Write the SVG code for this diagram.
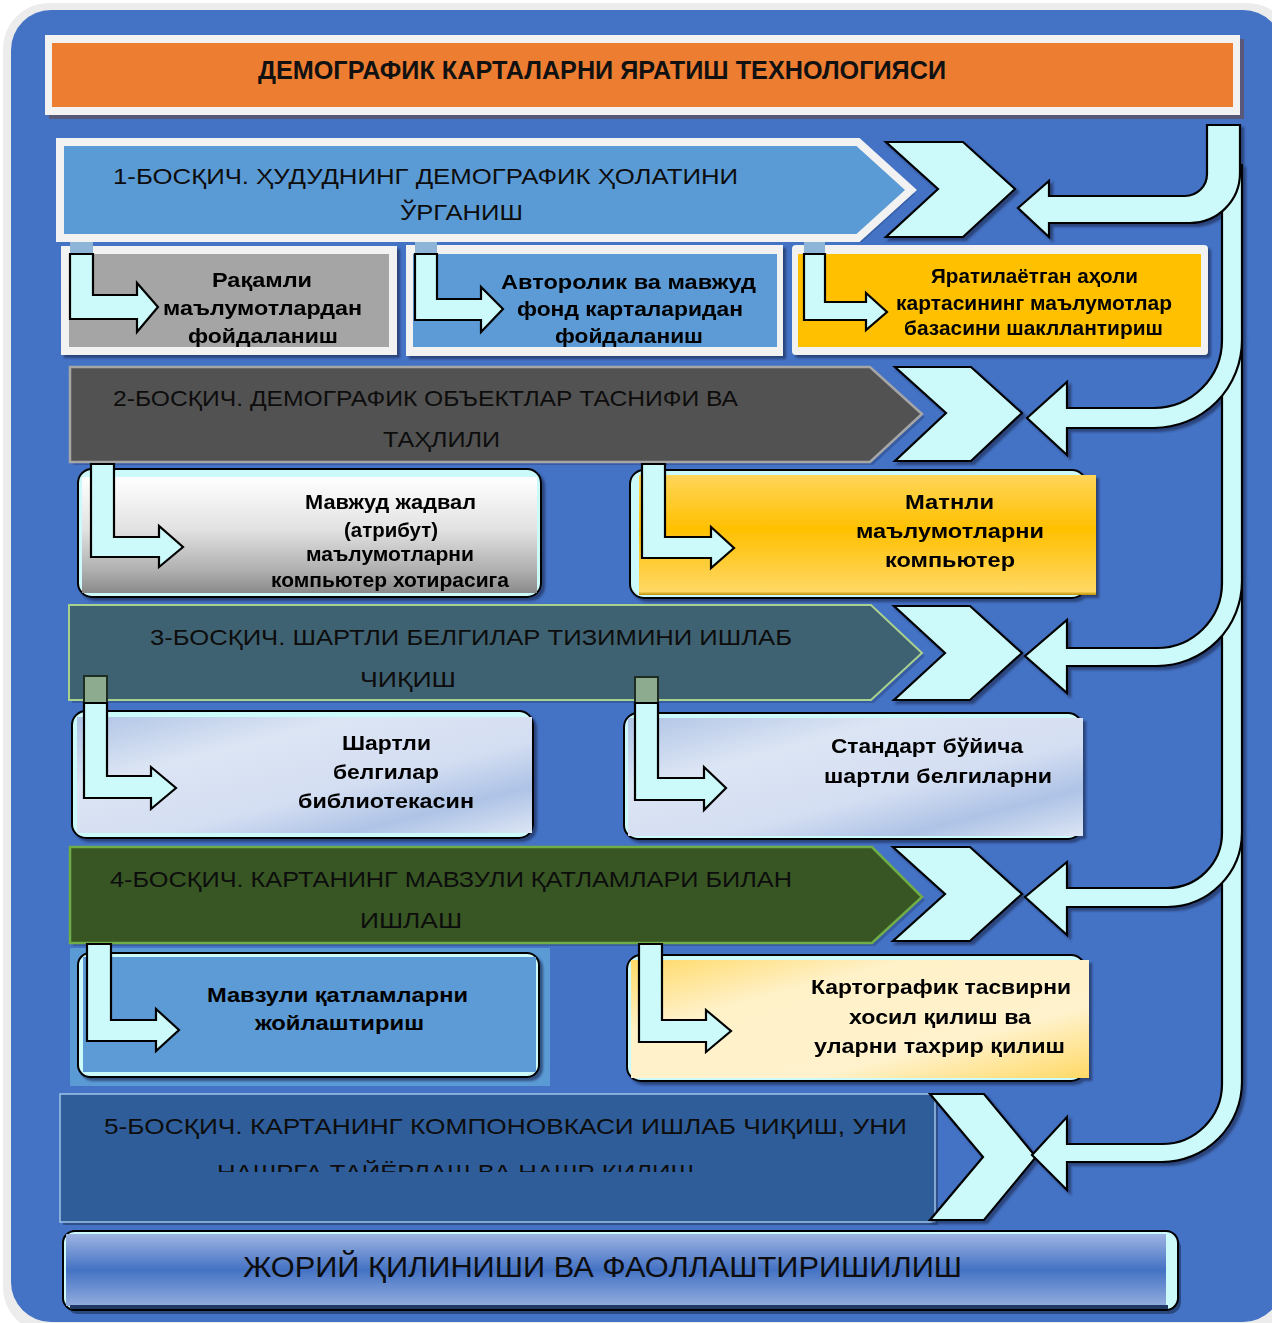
<svg xmlns="http://www.w3.org/2000/svg" width="1272" height="1323" viewBox="0 0 1272 1323">
<style>
  .st { font-family: "Liberation Sans", Arial, sans-serif; font-size: 22px; fill: #0d0d0d; }
  .bx { font-family: "Liberation Sans", Arial, sans-serif; font-size: 21px; font-weight: bold; fill: #000; }
  .cy { fill: #CCFAFA; stroke: #000; stroke-width: 2.2; stroke-linejoin: miter; }
  .ol { fill: #CCFAFA; stroke: #000; stroke-width: 2; }
</style>
<defs>
  <filter id="sh" x="-10%" y="-10%" width="130%" height="130%">
    <feDropShadow dx="3" dy="3" stdDeviation="1.2" flood-color="#1a2a55" flood-opacity="0.65"/>
  </filter>
  <linearGradient id="gGray" x1="0" y1="0" x2="0" y2="1">
    <stop offset="0" stop-color="#ffffff"/>
    <stop offset="0.45" stop-color="#e2e2e2"/>
    <stop offset="0.8" stop-color="#b0b0b0"/>
    <stop offset="1" stop-color="#8a8a8a"/>
  </linearGradient>
  <linearGradient id="gOrange" x1="0" y1="0" x2="0" y2="1">
    <stop offset="0" stop-color="#FFD55A"/>
    <stop offset="0.45" stop-color="#FFC000"/>
    <stop offset="0.85" stop-color="#FFD24D"/>
    <stop offset="0.97" stop-color="#FFD966"/>
    <stop offset="1" stop-color="#BF8F00"/>
  </linearGradient>
  <linearGradient id="gBlue" x1="0" y1="0" x2="1" y2="1">
    <stop offset="0" stop-color="#AFC4E6"/>
    <stop offset="0.3" stop-color="#DCE5F4"/>
    <stop offset="0.6" stop-color="#D4DEF2"/>
    <stop offset="0.8" stop-color="#AEC3E6"/>
    <stop offset="1" stop-color="#DCE5F4"/>
  </linearGradient>
  <linearGradient id="gYel" x1="0" y1="0" x2="1" y2="1">
    <stop offset="0" stop-color="#FFD966"/>
    <stop offset="0.3" stop-color="#FFF1C8"/>
    <stop offset="0.7" stop-color="#FFF2CC"/>
    <stop offset="1" stop-color="#FFD966"/>
  </linearGradient>
  <linearGradient id="gBar" x1="0" y1="0" x2="0" y2="1">
    <stop offset="0" stop-color="#9DB4E2"/>
    <stop offset="0.5" stop-color="#4472C4"/>
    <stop offset="1" stop-color="#93ADDE"/>
  </linearGradient>
  <clipPath id="cA"><rect x="60" y="240" width="340" height="107"/></clipPath>
  <clipPath id="cB"><rect x="400" y="240" width="390" height="107"/></clipPath>
  <clipPath id="cD"><rect x="70" y="470" width="480" height="123"/></clipPath>
  <clipPath id="c5"><rect x="60" y="1094" width="880" height="78"/></clipPath>
</defs>

<!-- background -->
<rect x="0" y="0" width="1272" height="1323" fill="#ffffff"/>
<rect x="3" y="3" width="1290" height="1330" rx="46" fill="#ececec"/>
<rect x="11" y="10" width="1272" height="1312" rx="40" fill="#4472C4"/>

<!-- title -->
<g id="title">
  <rect x="49" y="39" width="1195" height="80" fill="#5a5878"/>
  <rect x="45" y="35" width="1195" height="80" fill="#F2F2F2"/>
  <rect x="52" y="43" width="1181" height="64" fill="#ED7D31"/>
  <text x="258" y="79" font-family="Liberation Sans, Arial, sans-serif" font-size="25" font-weight="bold" fill="#111" textLength="688" lengthAdjust="spacingAndGlyphs">ДЕМОГРАФИК КАРТАЛАРНИ ЯРАТИШ ТЕХНОЛОГИЯСИ</text>
</g>

<!-- stage 1 -->
<g id="stage1">
  <polygon points="64,146 862,146 915,194 862,242 64,242" fill="#2f5597" opacity="0.6"/>
  <polygon points="60,142 858,142 911,190 858,238 60,238" fill="#5B9BD5" stroke="#F2F2F2" stroke-width="8"/>
  <text class="st" x="113" y="184" textLength="625" lengthAdjust="spacingAndGlyphs">1-БОСҚИЧ. ҲУДУДНИНГ ДЕМОГРАФИК ҲОЛАТИНИ</text>
  <text class="st" x="400" y="220" textLength="123" lengthAdjust="spacingAndGlyphs">ЎРГАНИШ</text>
</g>

<!-- row 1 boxes -->
<g id="boxA" filter="url(#sh)">
  <rect x="61" y="246" width="336" height="109" fill="#F2F2F2"/>
  <rect x="69" y="254" width="320" height="93" fill="#A5A5A5"/>
  <g clip-path="url(#cA)">
    <text class="bx" x="212" y="287" textLength="100" lengthAdjust="spacingAndGlyphs">Рақамли</text>
    <text class="bx" x="163" y="315" textLength="199" lengthAdjust="spacingAndGlyphs">маълумотлардан</text>
    <text class="bx" x="188" y="343" textLength="150" lengthAdjust="spacingAndGlyphs">фойдаланиш</text>
  </g>
</g>
<g id="boxB" filter="url(#sh)">
  <rect x="406" y="245" width="377" height="111" fill="#F2F2F2"/>
  <rect x="413" y="254" width="364" height="93" fill="#5B9BD5"/>
  <g clip-path="url(#cB)">
    <text class="bx" x="501" y="289" textLength="255" lengthAdjust="spacingAndGlyphs">Авторолик ва мавжуд</text>
    <text class="bx" x="517" y="316" textLength="226" lengthAdjust="spacingAndGlyphs">фонд карталаридан</text>
    <text class="bx" x="555" y="343" textLength="148" lengthAdjust="spacingAndGlyphs">фойдаланиш</text>
  </g>
</g>
<g id="boxC" filter="url(#sh)">
  <rect x="792" y="245" width="416" height="110" rx="4" fill="#F2F2F2"/>
  <rect x="798" y="254" width="403" height="93" fill="#FFC000"/>
  <text class="bx" x="931" y="283" font-size="19" textLength="207" lengthAdjust="spacingAndGlyphs">Яратилаётган аҳоли</text>
  <text class="bx" x="896" y="310" font-size="19" textLength="276" lengthAdjust="spacingAndGlyphs">картасининг маълумотлар</text>
  <text class="bx" x="904" y="335" font-size="19" textLength="259" lengthAdjust="spacingAndGlyphs">базасини шакллантириш</text>
</g>

<!-- stage 2 -->
<g id="stage2">
  <polygon points="73,370 873,370 925,417 873,465 73,465" fill="#2f4f8f" opacity="0.6"/>
  <polygon points="70,367 870,367 922,414 870,462 70,462" fill="#525252" stroke="#A6A6A6" stroke-width="2.5"/>
  <text class="st" x="113" y="406" textLength="625" lengthAdjust="spacingAndGlyphs">2-БОСҚИЧ. ДЕМОГРАФИК ОБЪЕКТЛАР ТАСНИФИ ВА</text>
  <text class="st" x="383" y="447" textLength="117" lengthAdjust="spacingAndGlyphs">ТАҲЛИЛИ</text>
</g>

<!-- row 2 boxes -->
<g id="boxD" filter="url(#sh)">
  <rect class="ol" x="78" y="469" width="463" height="128" rx="14"/>
  <rect x="82" y="477" width="455" height="116" fill="url(#gGray)"/>
  <g clip-path="url(#cD)">
    <text class="bx" x="305" y="509" font-size="20" textLength="171" lengthAdjust="spacingAndGlyphs">Мавжуд жадвал</text>
    <text class="bx" x="344" y="537" font-size="20" textLength="94" lengthAdjust="spacingAndGlyphs">(атрибут)</text>
    <text class="bx" x="306" y="561" font-size="20" textLength="168" lengthAdjust="spacingAndGlyphs">маълумотларни</text>
    <text class="bx" x="271" y="587" font-size="20" textLength="238" lengthAdjust="spacingAndGlyphs">компьютер хотирасига</text>
  </g>
</g>
<g id="boxE" filter="url(#sh)">
  <rect class="ol" x="630" y="470" width="456" height="128" rx="14"/>
  <rect x="639" y="475" width="457" height="120" fill="url(#gOrange)"/>
  <text class="bx" x="905" y="509" textLength="89" lengthAdjust="spacingAndGlyphs">Матнли</text>
  <text class="bx" x="856" y="538" textLength="188" lengthAdjust="spacingAndGlyphs">маълумотларни</text>
  <text class="bx" x="885" y="567" textLength="130" lengthAdjust="spacingAndGlyphs">компьютер</text>
</g>

<!-- stage 3 -->
<g id="stage3">
  <polygon points="72,608 874,608 925,656 874,703 72,703" fill="#2f4f8f" opacity="0.6"/>
  <polygon points="69,605 871,605 922,653 871,700 69,700" fill="#3F6272" stroke="#A9D18E" stroke-width="2"/>
  <text class="st" x="150" y="645" textLength="642" lengthAdjust="spacingAndGlyphs">3-БОСҚИЧ. ШАРТЛИ БЕЛГИЛАР ТИЗИМИНИ ИШЛАБ</text>
  <text class="st" x="360" y="687" textLength="96" lengthAdjust="spacingAndGlyphs">ЧИҚИШ</text>
</g>

<!-- row 3 boxes -->
<g id="boxF" filter="url(#sh)">
  <rect class="ol" x="72" y="711" width="461" height="127" rx="14"/>
  <rect x="77" y="717" width="455" height="116" fill="url(#gBlue)"/>
  <text class="bx" x="342" y="750" textLength="89" lengthAdjust="spacingAndGlyphs">Шартли</text>
  <text class="bx" x="333" y="779" textLength="106" lengthAdjust="spacingAndGlyphs">белгилар</text>
  <text class="bx" x="298" y="808" textLength="176" lengthAdjust="spacingAndGlyphs">библиотекасин</text>
</g>
<g id="boxG" filter="url(#sh)">
  <rect class="ol" x="624" y="713" width="458" height="126" rx="14"/>
  <rect x="628" y="718" width="455" height="118" fill="url(#gBlue)"/>
  <text class="bx" x="831" y="753" textLength="192" lengthAdjust="spacingAndGlyphs">Стандарт бўйича</text>
  <text class="bx" x="824" y="783" textLength="228" lengthAdjust="spacingAndGlyphs">шартли белгиларни</text>
</g>

<!-- stage 4 -->
<g id="stage4">
  <polygon points="73,850 875,850 925,900 875,946 73,946" fill="#2f4f8f" opacity="0.6"/>
  <polygon points="70,847 872,847 922,897 872,943 70,943" fill="#375623" stroke="#70AD47" stroke-width="2.5"/>
  <text class="st" x="110" y="887" textLength="682" lengthAdjust="spacingAndGlyphs">4-БОСҚИЧ. КАРТАНИНГ МАВЗУЛИ ҚАТЛАМЛАРИ БИЛАН</text>
  <text class="st" x="360" y="928" textLength="102" lengthAdjust="spacingAndGlyphs">ИШЛАШ</text>
</g>

<!-- row 4 boxes -->
<g id="boxH">
  <rect x="70" y="948" width="480" height="138" fill="#5B9BD5"/>
  <g filter="url(#sh)">
    <rect class="ol" x="78" y="953" width="461" height="124" rx="12"/>
    <rect x="83" y="957" width="453" height="115" fill="#5B9BD5"/>
  </g>
  <text class="bx" x="207" y="1002" textLength="261" lengthAdjust="spacingAndGlyphs">Мавзули қатламларни</text>
  <text class="bx" x="255" y="1030" textLength="169" lengthAdjust="spacingAndGlyphs">жойлаштириш</text>
</g>
<g id="boxI" filter="url(#sh)">
  <rect class="ol" x="627" y="955" width="458" height="126" rx="14"/>
  <rect x="631" y="960" width="458" height="118" fill="url(#gYel)"/>
  <text class="bx" x="811" y="994" textLength="260" lengthAdjust="spacingAndGlyphs">Картографик тасвирни</text>
  <text class="bx" x="849" y="1024" textLength="182" lengthAdjust="spacingAndGlyphs">хосил қилиш ва</text>
  <text class="bx" x="814" y="1053" textLength="251" lengthAdjust="spacingAndGlyphs">уларни тахрир қилиш</text>
</g>

<!-- stage 5 -->
<g id="stage5">
  <rect x="63" y="1097" width="875" height="128" fill="#1f3864" opacity="0.6"/>
  <rect x="60" y="1094" width="875" height="128" fill="#2F5D9A" stroke="#9DC3E6" stroke-width="1.5"/>
  <text class="st" x="104" y="1134" font-size="26" textLength="803" lengthAdjust="spacingAndGlyphs">5-БОСҚИЧ. КАРТАНИНГ КОМПОНОВКАСИ ИШЛАБ ЧИҚИШ, УНИ</text>
  <g clip-path="url(#c5)">
    <text class="st" x="217" y="1180" font-size="26" textLength="477" lengthAdjust="spacingAndGlyphs">НАШРГА ТАЙЁРЛАШ ВА НАШР ҚИЛИШ</text>
  </g>
</g>

<!-- final bar -->
<g id="final">
  <rect x="66" y="1236" width="1115" height="78" rx="12" fill="#1f3864" opacity="0.7"/>
  <rect class="ol" x="63" y="1231" width="1115" height="79" rx="12"/>
  <rect x="66" y="1234" width="1100" height="72" fill="url(#gBar)"/>
  <rect x="70" y="1305" width="1098" height="4" fill="#1f3864"/>
  <text x="243" y="1277" font-family="Liberation Sans, Arial, sans-serif" font-size="29" fill="#0d0d0d" textLength="719" lengthAdjust="spacingAndGlyphs">ЖОРИЙ ҚИЛИНИШИ ВА ФАОЛЛАШТИРИШИЛИШ</text>
</g>

<!-- connectors: L arrows, chevrons, return arrows -->
<g id="connectors">
  <g fill="#8EB4D8">
    <rect x="70" y="242" width="23" height="12"/>
    <rect x="415" y="242" width="22" height="12"/>
    <rect x="804" y="242" width="21" height="12"/>
  </g>
  <polygon class="cy" points="70,254 93,254 93,295 137,295 137,283 158,307 137,332 137,319 70,319"/>
  <polygon class="cy" points="415,254 437,254 437,299 481,299 481,287 503,309 481,332 481,320 415,320"/>
  <polygon class="cy" points="804,254 825,254 825,302 866,302 866,293 887,312 866,330 866,320 804,320"/>

  <polygon class="cy" points="91,464 114,464 114,537 159,537 159,526 183,547 159,567 159,557 91,557"/>
  <polygon class="cy" points="642,464 665,464 665,537 711,537 711,527 734,548 711,568 711,558 642,558"/>

  <rect x="84" y="676" width="23" height="27" fill="#8CAB8F" stroke="#1e2e22" stroke-width="2"/>
  <rect x="635" y="677" width="23" height="26" fill="#8CAB8F" stroke="#1e2e22" stroke-width="2"/>
  <polygon class="cy" points="84,703 107,703 107,776 151,776 151,767 176,788 151,809 151,798 84,798"/>
  <polygon class="cy" points="635,703 658,703 658,778 704,778 704,767 726,788 704,810 704,800 635,800"/>

  <polygon class="cy" points="87,944 111,944 111,1020 156,1020 156,1009 179,1030 156,1051 156,1041 87,1041"/>
  <polygon class="cy" points="639,944 662,944 662,1020 706,1020 706,1010 731,1031 706,1052 706,1042 639,1042"/>

  <g filter="url(#sh)">
    <polygon class="cy" points="886,142 963,142 1015,189 963,237 886,237 938,189"/>
    <polygon class="cy" points="895,367 971,367 1022,413 971,461 895,461 946,413"/>
    <polygon class="cy" points="894,606 970,606 1022,653 970,700 894,700 945,653"/>
    <polygon class="cy" points="893,847 970,847 1022,894 970,941 893,941 945,894"/>
    <polygon class="cy" points="930,1094 984,1094 1036,1157 984,1220 930,1220 983,1157"/>

    <path class="cy" d="M 1222,820 L 1242,820 L 1242,1082 A 80 80 0 0 1 1162,1162 L 1067,1162 L 1067,1190 L 1032,1155 L 1067,1117 L 1067,1144 L 1162,1144 A 60 60 0 0 0 1222,1084 Z"/>
    <path class="cy" d="M 1222,570 L 1242,570 L 1242,832 A 75 75 0 0 1 1167,907 L 1067,907 L 1067,935 L 1025,897 L 1067,862 L 1067,888 L 1167,888 A 55 55 0 0 0 1222,833 Z"/>
    <path class="cy" d="M 1222,330 L 1242,330 L 1242,581 A 85 85 0 0 1 1157,666 L 1067,666 L 1067,693 L 1025,656 L 1067,620 L 1067,648 L 1157,648 A 65 65 0 0 0 1222,583 Z"/>
    <path class="cy" d="M 1222,165 L 1242,165 L 1242,340 A 88 88 0 0 1 1154,428 L 1067,428 L 1067,455 L 1027,418 L 1067,382 L 1067,408 L 1154,408 A 68 68 0 0 0 1222,340 Z"/>
    <path class="cy" d="M 1207,125 L 1240,125 L 1240,173 A 50 50 0 0 1 1190,223 L 1049,223 L 1049,237 L 1018,208 L 1049,181 L 1049,196 L 1185,196 A 22 22 0 0 0 1207,174 Z"/>
  </g>
</g>
</svg>
